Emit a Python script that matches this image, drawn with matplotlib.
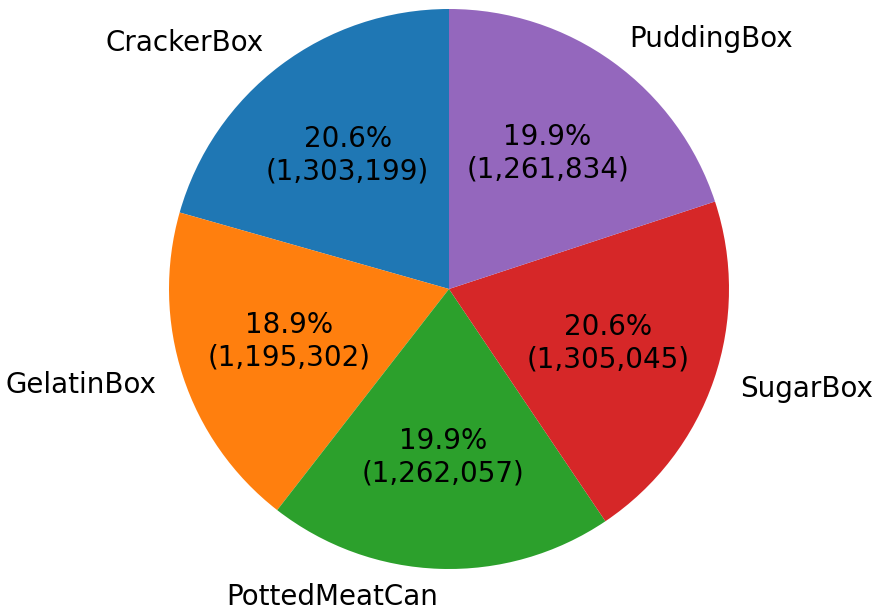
import matplotlib
matplotlib.use("Agg")
import matplotlib.pyplot as plt

labels = ['CrackerBox', 'GelatinBox', 'PottedMeatCan', 'SugarBox', 'PuddingBox']
counts = [1303199, 1195302, 1262057, 1305045, 1261834]
colors = ['#1f77b4', '#ff7f0e', '#2ca02c', '#d62728', '#9467bd']


def fmt(pct):
    val = int(round(pct * sum(counts) / 100.0))
    return f'{pct:.1f}%\n({val:,})'


fig = plt.figure(figsize=(8.86, 6.15), dpi=100)
ax = fig.add_axes([169 / 886, 46 / 615, 560 / 886, 560 / 615])
ax.pie(counts, labels=labels, colors=colors, autopct=fmt, startangle=90,
       textprops={'fontsize': 20})
ax.set_xlim(-1, 1)
ax.set_ylim(-1, 1)
ax.set_aspect('equal')
fig.savefig('out.png', dpi=100)
